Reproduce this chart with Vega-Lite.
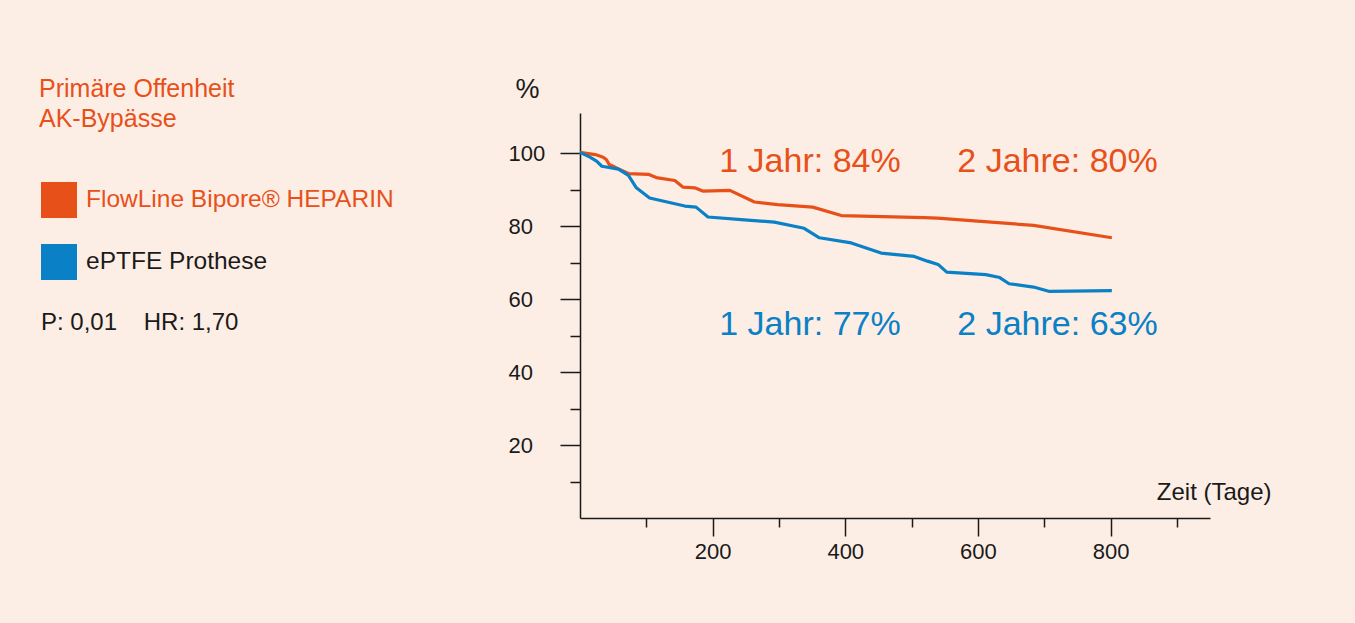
{
  "$schema": "https://vega.github.io/schema/vega-lite/v6.json",
  "width": 630,
  "height": 405,
  "autosize": "none",
  "padding": {"left": 580, "top": 113, "right": 145, "bottom": 105},
  "background": "#fdeee5",
  "config": {
    "view": {"stroke": null},
    "font": "Liberation Sans"
  },
  "title": {
    "text": ["Primäre Offenheit", "AK-Bypässe"],
    "anchor": "start",
    "frame": "group",
    "orient": "top",
    "baseline": "alphabetic",
    "dx": -541,
    "dy": 92,
    "offset": 15,
    "color": "#e8501a",
    "font": "Liberation Sans",
    "fontSize": 25,
    "fontWeight": "normal",
    "lineHeight": 30
  },
  "datasets": {
    "curves": [
      {"series": "FlowLine Bipore® HEPARIN", "day": 0, "pct": 100.2},
      {"series": "FlowLine Bipore® HEPARIN", "day": 23, "pct": 99.6},
      {"series": "FlowLine Bipore® HEPARIN", "day": 35, "pct": 98.9},
      {"series": "FlowLine Bipore® HEPARIN", "day": 40, "pct": 98.2},
      {"series": "FlowLine Bipore® HEPARIN", "day": 44, "pct": 96.9},
      {"series": "FlowLine Bipore® HEPARIN", "day": 50, "pct": 96.4},
      {"series": "FlowLine Bipore® HEPARIN", "day": 58, "pct": 95.7},
      {"series": "FlowLine Bipore® HEPARIN", "day": 73, "pct": 94.4},
      {"series": "FlowLine Bipore® HEPARIN", "day": 103, "pct": 94.2},
      {"series": "FlowLine Bipore® HEPARIN", "day": 115, "pct": 93.3},
      {"series": "FlowLine Bipore® HEPARIN", "day": 143, "pct": 92.5},
      {"series": "FlowLine Bipore® HEPARIN", "day": 155, "pct": 90.7},
      {"series": "FlowLine Bipore® HEPARIN", "day": 173, "pct": 90.5},
      {"series": "FlowLine Bipore® HEPARIN", "day": 185, "pct": 89.6},
      {"series": "FlowLine Bipore® HEPARIN", "day": 226, "pct": 89.8},
      {"series": "FlowLine Bipore® HEPARIN", "day": 263, "pct": 86.6},
      {"series": "FlowLine Bipore® HEPARIN", "day": 298, "pct": 85.9},
      {"series": "FlowLine Bipore® HEPARIN", "day": 351, "pct": 85.2},
      {"series": "FlowLine Bipore® HEPARIN", "day": 394, "pct": 82.9},
      {"series": "FlowLine Bipore® HEPARIN", "day": 519, "pct": 82.3},
      {"series": "FlowLine Bipore® HEPARIN", "day": 539, "pct": 82.2},
      {"series": "FlowLine Bipore® HEPARIN", "day": 684, "pct": 80.2},
      {"series": "FlowLine Bipore® HEPARIN", "day": 802, "pct": 76.8},
      {"series": "ePTFE Prothese", "day": 0, "pct": 100.2},
      {"series": "ePTFE Prothese", "day": 15, "pct": 98.9},
      {"series": "ePTFE Prothese", "day": 25, "pct": 97.8},
      {"series": "ePTFE Prothese", "day": 33, "pct": 96.4},
      {"series": "ePTFE Prothese", "day": 58, "pct": 95.6},
      {"series": "ePTFE Prothese", "day": 73, "pct": 93.9},
      {"series": "ePTFE Prothese", "day": 85, "pct": 90.5},
      {"series": "ePTFE Prothese", "day": 105, "pct": 87.7},
      {"series": "ePTFE Prothese", "day": 158, "pct": 85.5},
      {"series": "ePTFE Prothese", "day": 175, "pct": 85.2},
      {"series": "ePTFE Prothese", "day": 193, "pct": 82.5},
      {"series": "ePTFE Prothese", "day": 248, "pct": 81.7},
      {"series": "ePTFE Prothese", "day": 293, "pct": 81.1},
      {"series": "ePTFE Prothese", "day": 338, "pct": 79.4},
      {"series": "ePTFE Prothese", "day": 361, "pct": 76.8},
      {"series": "ePTFE Prothese", "day": 409, "pct": 75.4},
      {"series": "ePTFE Prothese", "day": 454, "pct": 72.6},
      {"series": "ePTFE Prothese", "day": 504, "pct": 71.7},
      {"series": "ePTFE Prothese", "day": 524, "pct": 70.4},
      {"series": "ePTFE Prothese", "day": 540, "pct": 69.5},
      {"series": "ePTFE Prothese", "day": 553, "pct": 67.4},
      {"series": "ePTFE Prothese", "day": 612, "pct": 66.7},
      {"series": "ePTFE Prothese", "day": 633, "pct": 65.9},
      {"series": "ePTFE Prothese", "day": 647, "pct": 64.2},
      {"series": "ePTFE Prothese", "day": 684, "pct": 63.3},
      {"series": "ePTFE Prothese", "day": 708, "pct": 62.1},
      {"series": "ePTFE Prothese", "day": 802, "pct": 62.3}
    ],
    "notes": [
      {"series": "FlowLine Bipore® HEPARIN", "label": "1 Jahr: 84%", "day": 210, "pct": 97.5},
      {"series": "FlowLine Bipore® HEPARIN", "label": "2 Jahre: 80%", "day": 569, "pct": 97.5},
      {"series": "ePTFE Prothese", "label": "1 Jahr: 77%", "day": 210, "pct": 52.8},
      {"series": "ePTFE Prothese", "label": "2 Jahre: 63%", "day": 569, "pct": 52.8}
    ]
  },
  "encoding": {
    "x": {
      "field": "day",
      "type": "quantitative",
      "scale": {"domain": [0, 950], "nice": false, "zero": false},
      "axis": {
        "values": [100, 200, 300, 400, 500, 600, 700, 800, 900],
        "labelExpr": "datum.value % 200 === 0 ? datum.label : ''",
        "grid": false,
        "domainColor": "#1a1a1a",
        "domainWidth": 1.5,
        "tickColor": "#1a1a1a",
        "tickWidth": 1.5,
        "tickSize": {"condition": {"test": "datum.value % 200 === 0", "value": 18}, "value": 9},
        "labelFontSize": 22,
        "labelColor": "#1a1a1a",
        "labelPadding": 5,
        "labelFont": "Liberation Sans",
        "title": "Zeit (Tage)",
        "titleFont": "Liberation Sans",
        "titleFontSize": 24,
        "titleFontWeight": "normal",
        "titleColor": "#1a1a1a",
        "titleAngle": 0,
        "titleAlign": "right",
        "titleBaseline": "middle",
        "titleX": 691,
        "titleY": -26
      }
    },
    "y": {
      "field": "pct",
      "type": "quantitative",
      "scale": {"domain": [0, 111], "nice": false, "zero": false},
      "axis": {
        "values": [10, 20, 30, 40, 50, 60, 70, 80, 90, 100],
        "labelExpr": "datum.value % 20 === 0 ? datum.label : ''",
        "grid": false,
        "domainColor": "#1a1a1a",
        "domainWidth": 1.5,
        "tickColor": "#1a1a1a",
        "tickWidth": 1.5,
        "tickSize": {"condition": {"test": "datum.value % 20 === 0", "value": 20}, "value": 10},
        "labelFontSize": 22,
        "labelColor": "#1a1a1a",
        "labelAlign": "left",
        "labelPadding": 52,
        "labelFont": "Liberation Sans",
        "title": "%",
        "titleFont": "Liberation Sans",
        "titleFontSize": 27,
        "titleFontWeight": "normal",
        "titleColor": "#1a1a1a",
        "titleAngle": 0,
        "titleAlign": "left",
        "titleBaseline": "middle",
        "titleX": -65,
        "titleY": -24
      }
    },
    "color": {
      "field": "series",
      "type": "nominal",
      "scale": {
        "domain": ["FlowLine Bipore® HEPARIN", "ePTFE Prothese"],
        "range": ["#e8501a", "#0a80c6"]
      }
    }
  },
  "layer": [
    {
      "data": {"name": "curves"},
      "mark": {"type": "line", "strokeWidth": 3.2, "strokeJoin": "round"},
      "encoding": {
        "color": {
          "field": "series",
          "type": "nominal",
          "legend": {
            "orient": "none",
            "legendX": -539,
            "legendY": 69,
            "direction": "vertical",
            "padding": 0,
            "symbolType": "square",
            "symbolSize": 1296,
            "symbolStrokeWidth": 0,
            "symbolOpacity": 1,
            "labelFont": "Liberation Sans",
            "labelFontSize": 24.5,
            "labelOffset": 9,
            "labelLimit": 400,
            "rowPadding": 26,
            "title": "P: 0,01\u00a0\u00a0\u00a0\u00a0HR: 1,70",
            "titleOrient": "bottom",
            "titleAnchor": "start",
            "titleBaseline": "top",
            "titleFont": "Liberation Sans",
            "titleFontSize": 24,
            "titleFontWeight": "normal",
            "titleColor": "#1a1a1a",
            "titlePadding": 31,
            "titleLimit": 400,
            "encode": {
              "symbols": {
                "update": {
                  "fill": {"scale": "color", "field": "value"},
                  "fillOpacity": {"value": 1},
                  "strokeWidth": {"value": 0}
                }
              },
              "labels": {
                "update": {
                  "fill": {"signal": "datum.value === 'ePTFE Prothese' ? '#1a1a1a' : '#e8501a'"}
                }
              }
            }
          }
        }
      }
    },
    {
      "data": {"name": "notes"},
      "mark": {"type": "text", "align": "left", "baseline": "middle", "fontSize": 34, "font": "Liberation Sans"},
      "encoding": {
        "text": {"field": "label"},
        "color": {"field": "series", "type": "nominal", "legend": null}
      }
    }
  ]
}
